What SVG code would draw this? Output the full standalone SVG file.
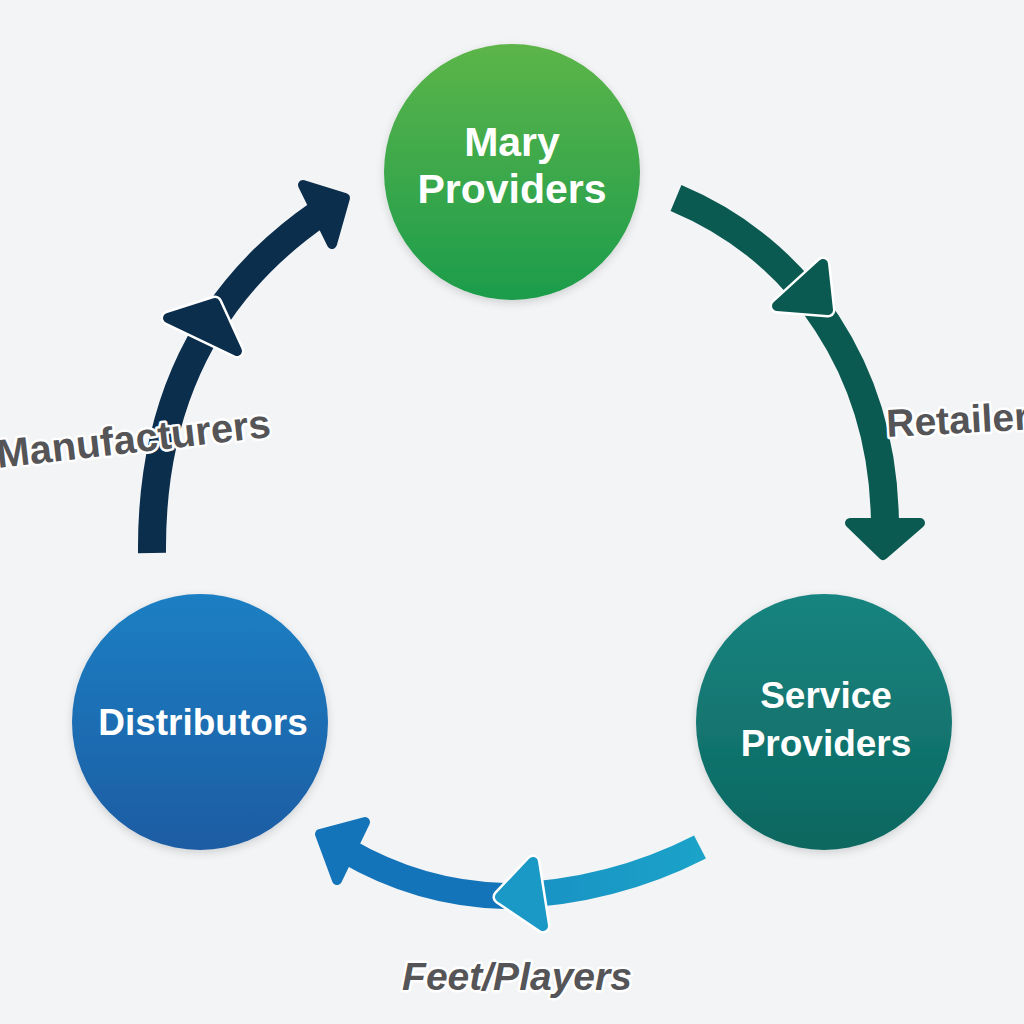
<svg xmlns="http://www.w3.org/2000/svg" width="1024" height="1024" viewBox="0 0 1024 1024">
<defs>
<linearGradient id="gGreen" x1="0" y1="0" x2="0" y2="1"><stop offset="0" stop-color="#5cb54a"/><stop offset="1" stop-color="#1c9c4c"/></linearGradient>
<linearGradient id="gBlue" x1="0" y1="0" x2="0" y2="1"><stop offset="0" stop-color="#1a7fc3"/><stop offset="1" stop-color="#1f5ca3"/></linearGradient>
<linearGradient id="gTeal" x1="0" y1="0" x2="0" y2="1"><stop offset="0" stop-color="#198480"/><stop offset="1" stop-color="#0c6760"/></linearGradient>
<linearGradient id="gBottom" gradientUnits="userSpaceOnUse" x1="705" y1="0" x2="320" y2="0"><stop offset="0" stop-color="#1ba3c9"/><stop offset="0.5" stop-color="#1890c3"/><stop offset="1" stop-color="#1470b8"/></linearGradient>
<filter id="sh" x="-20%" y="-20%" width="140%" height="140%"><feDropShadow dx="0" dy="3" stdDeviation="4" flood-color="#000" flood-opacity="0.15"/></filter>
</defs>
<style>
.node{font-family:"Liberation Sans",Arial,sans-serif;font-weight:bold;fill:#fff;text-anchor:middle}
.lbl{font-family:"Liberation Sans",Arial,sans-serif;font-weight:bold;fill:#555558;stroke:#fff;stroke-width:5;paint-order:stroke;stroke-linejoin:round}
.line{fill:none;stroke-linecap:butt}
.head{stroke-linejoin:round;stroke-width:10}
.halo{fill:#fff;stroke:#fff;stroke-width:15;stroke-linejoin:round}
</style>
<rect width="1024" height="1024" fill="#f3f4f5"/>
<g id="connectors">
<g id="arrow-left">
<path class="line" d="M152,553 Q150,330 320,213" stroke="#0c2e4d" stroke-width="28"/>
<polygon class="halo" points="215,303 168,318 237,351"/>
<polygon class="head" points="215,303 168,318 237,351" fill="#0c2e4d" stroke="#0c2e4d"/>
<polygon class="head" points="345,198 303,185 332,244" fill="#0c2e4d" stroke="#0c2e4d"/>
</g>
<g id="arrow-right">
<path class="line" d="M676,198 C800,250 885,370 885,528" stroke="#0b5a52" stroke-width="28"/>
<polygon class="halo" points="828,310 823,264 777,306"/>
<polygon class="head" points="828,310 823,264 777,306" fill="#0b5a52" stroke="#0b5a52"/>
<polygon class="head" points="883,555 850,523 920,523" fill="#0b5a52" stroke="#0b5a52"/>
</g>
<g id="arrow-bottom">
<path class="line" d="M700,847 Q610,893 505,896" stroke="url(#gBottom)" stroke-width="26"/>
<path class="line" d="M505,896 Q420,894 345,850" stroke="#1474b9" stroke-width="26"/>
<polygon class="halo" points="500,897 533,862 543,926"/>
<polygon class="head" points="500,897 533,862 543,926" fill="#1a98c6" stroke="#1a98c6"/>
<polygon class="head" points="320,834 365,822 337,880" fill="#1474b9" stroke="#1474b9"/>
</g>
</g>
<g id="node-mary">
<circle cx="512" cy="172" r="128" fill="url(#gGreen)" filter="url(#sh)"/>
<text class="node" x="512" y="156" font-size="41">Mary</text>
<text class="node" x="512" y="203" font-size="41">Providers</text>
</g>
<g id="node-distributors">
<circle cx="200" cy="722" r="128" fill="url(#gBlue)" filter="url(#sh)"/>
<text class="node" x="203" y="735" font-size="37">Distributors</text>
</g>
<g id="node-service">
<circle cx="824" cy="722" r="128" fill="url(#gTeal)" filter="url(#sh)"/>
<text class="node" x="826" y="708" font-size="37">Service</text>
<text class="node" x="826" y="756" font-size="37">Providers</text>
</g>
<g id="labels">
<text class="lbl" font-size="40" transform="translate(-2,468) rotate(-6.5)">Manufacturers</text>
<text class="lbl" font-size="39" transform="translate(887,437) rotate(-3)">Retailer</text>
<text class="lbl" font-size="39" font-style="italic" x="517" y="990" text-anchor="middle">Feet/Players</text>
</g>
</svg>
